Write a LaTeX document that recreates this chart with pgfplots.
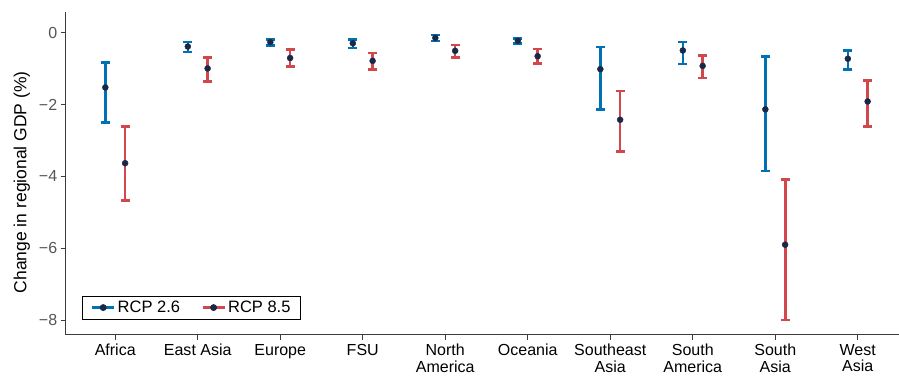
\documentclass[border=0pt]{standalone}
\usepackage{pgfplots}
\pgfplotsset{compat=1.18}
\usepackage{pgfplotstable}
\usepackage{fontspec}
\setmainfont{Liberation Sans}
\definecolor{cblue}{RGB}{0,113,178}
\definecolor{cred}{RGB}{208,72,76}
\definecolor{cdot}{RGB}{25,40,70}
\definecolor{cgrey}{RGB}{60,60,60}
\definecolor{ctick}{RGB}{85,85,85}

\pgfplotstableread{
x y ep em
0 -1.52 0.70 0.98
1 -0.38 0.12 0.15
2 -0.26 0.08 0.09
3 -0.29 0.11 0.13
4 -0.14 0.08 0.08
5 -0.22 0.06 0.08
6 -1.01 0.62 1.12
7 -0.49 0.24 0.38
8 -2.13 1.47 1.72
9 -0.72 0.23 0.30
}\rcplow
\pgfplotstableread{
x y ep em
0 -3.63 1.02 1.03
1 -0.99 0.30 0.36
2 -0.70 0.24 0.23
3 -0.78 0.22 0.24
4 -0.50 0.16 0.19
5 -0.65 0.20 0.21
6 -2.42 0.80 0.89
7 -0.92 0.29 0.34
8 -5.90 1.82 2.10
9 -1.91 0.58 0.69
}\rcphigh

\begin{document}
\begin{tikzpicture}
\begin{axis}[
  scale only axis,
  width=833pt, height=323pt,
  xmin=-0.6, xmax=9.5,
  ymin=-8.41, ymax=0.59,
  axis x line*=bottom, axis y line*=left,
  axis line style={cgrey, line width=0.9pt},
  xtick={0,...,9},
  xticklabels={Africa,East Asia,Europe,FSU,{North\\America},Oceania,{Southeast\\Asia},{South\\America},{South\\Asia},{West\\Asia}},
  xticklabel style={align=center, font=\fontsize{16}{16.5}\selectfont, text=black, yshift=-1pt},
  ytick={-8,-6,-4,-2,0},
  yticklabels={−8,−6,−4,−2,0},
  yticklabel style={font=\fontsize{16}{16.5}\selectfont, text=ctick},
  tick style={cgrey, line width=0.9pt},
  tick align=outside,
  major tick length=5pt,
  ylabel={Change in regional GDP (\%)},
  ylabel style={font=\fontsize{17.5}{18}\selectfont, yshift=2pt, xshift=-9pt},
  legend style={at={(0.0199,0.0474)}, anchor=south west, draw=black, line width=0.8pt,
    font=\fontsize{16.5}{17}\selectfont, legend columns=2, inner xsep=8pt, inner ysep=3pt,
    /tikz/every even column/.append style={column sep=19pt}},
]
\coordinate (ll) at (rel axis cs:0,0);
\coordinate (ur) at (rel axis cs:1,1);
\addplot[only marks, mark=*, mark size=3pt, mark options={fill=cdot, draw=cdot},
  legend image code/.code={\draw[cblue, line width=3pt] (0pt,0pt) -- (22pt,0pt); \fill[cdot] (11pt,0pt) circle (3pt);},
  error bars/.cd, y dir=both, y explicit,
  error bar style={cblue, line width=2.5pt},
  error mark=-, error mark options={cblue, line width=2.5pt, mark size=4.5pt, rotate=90}]
  table[x expr=\thisrow{x}-0.12, y=y, y error plus=ep, y error minus=em]{\rcplow};
\addlegendentry{RCP 2.6}
\addplot[only marks, mark=*, mark size=3pt, mark options={fill=cdot, draw=cdot},
  legend image code/.code={\draw[cred, line width=3pt] (0pt,0pt) -- (22pt,0pt); \fill[cdot] (11pt,0pt) circle (3pt);},
  error bars/.cd, y dir=both, y explicit,
  error bar style={cred, line width=2.7pt},
  error mark=-, error mark options={cred, line width=2.7pt, mark size=4.5pt, rotate=90}]
  table[x expr=\thisrow{x}+0.12, y=y, y error plus=ep, y error minus=em]{\rcphigh};
\addlegendentry{RCP 8.5}
\end{axis}
\pgfresetboundingbox
\path[use as bounding box] ([xshift=-65.7pt,yshift=-41.3pt]ll) rectangle ([yshift=11.7pt]ur);
\end{tikzpicture}
\end{document}
